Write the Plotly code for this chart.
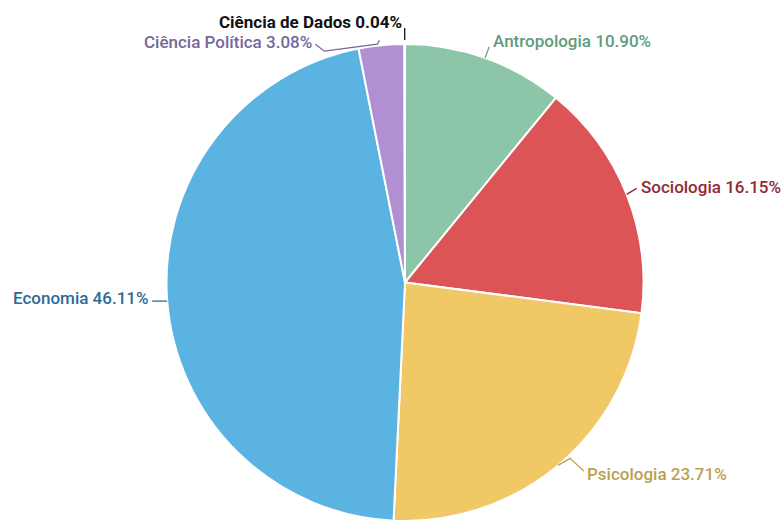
import math
import plotly.graph_objects as go

# Share of publications by field (%)
areas = ["Antropologia", "Sociologia", "Psicologia", "Economia",
         "Ciência Política", "Ciência de Dados"]
shares = [10.90, 16.15, 23.71, 46.11, 3.08, 0.04]
slice_colors = ["#8cc5a7", "#dc5456", "#f0c866", "#5bb3e1", "#b190d2", "#8cc5a7"]
label_colors = ["#5e9c7d", "#8e2a33", "#b9a152", "#2c6b96", "#76679a", "#111111"]

W, H = 784, 521
DOM_X = [165 / W, 645 / W]
DOM_Y = [0.0, 1 - 44 / H]

# Label placement relative to each slice's rim point (pixels):
# connector polyline offsets, text offset, text anchor
label_layout = [
    dict(path=[(0, 0), (4, -11)], text=(6, -17), anchor="left", bold=False),
    dict(path=[(0, 0), (10, -6)], text=(12, -7), anchor="left", bold=False),
    dict(path=[(0, 0), (12, -7), (26, 6)], text=(27, 9), anchor="left", bold=False),
    dict(path=[(0, 1), (-15, 1)], text=(-16, -2), anchor="right", bold=False),
    dict(path=[(-2, -5), (-4, -1), (-57, 6), (-66, -1)], text=(-67, -3),
         anchor="right", bold=False),
    dict(path=[(0, -4), (0, -16)], text=(-1, -22), anchor="right", bold=True),
]

fig = go.Figure(go.Pie(
    labels=areas,
    values=shares,
    sort=False,
    direction="clockwise",
    rotation=0,
    marker=dict(colors=slice_colors, line=dict(color="white", width=2)),
    textinfo="none",
    hoverinfo="label+percent",
    domain=dict(x=DOM_X, y=DOM_Y),
    showlegend=False,
))

# Pie geometry in pixels, derived from the domain
w = W * (DOM_X[1] - DOM_X[0])
h = H * (DOM_Y[1] - DOM_Y[0])
r = min(w, h) / 2
cx = W * (DOM_X[0] + DOM_X[1]) / 2
cy = H * (1 - (DOM_Y[0] + DOM_Y[1]) / 2)

def to_paper(px, py):
    return px / W, 1 - py / H

total = sum(shares)
cum = 0.0
shapes, annotations = [], []
for name, val, col, spec in zip(areas, shares, label_colors, label_layout):
    mid = (cum + val / 2) / total * 2 * math.pi
    cum += val
    ex = cx + r * math.sin(mid)
    ey = cy - r * math.cos(mid)
    pts = [to_paper(ex + dx, ey + dy) for dx, dy in spec["path"]]
    path = "M " + " L ".join(f"{x:.5f},{y:.5f}" for x, y in pts)
    shapes.append(dict(type="path", path=path, xref="paper", yref="paper",
                       line=dict(color=col, width=1.3), layer="above"))
    tx, ty = to_paper(ex + spec["text"][0], ey + spec["text"][1])
    annotations.append(dict(
        x=tx, y=ty, xref="paper", yref="paper",
        text=f"{name} {val:.2f}%", showarrow=False,
        xanchor=spec["anchor"], yanchor="middle",
        font=dict(family="Roboto", size=17, color=col,
                  weight=700 if spec["bold"] else 500),
    ))

fig.update_layout(
    width=W, height=H,
    margin=dict(l=0, r=0, t=0, b=0),
    paper_bgcolor="white",
    plot_bgcolor="white",
    shapes=shapes,
    annotations=annotations,
)

fig.write_html("out.html")
